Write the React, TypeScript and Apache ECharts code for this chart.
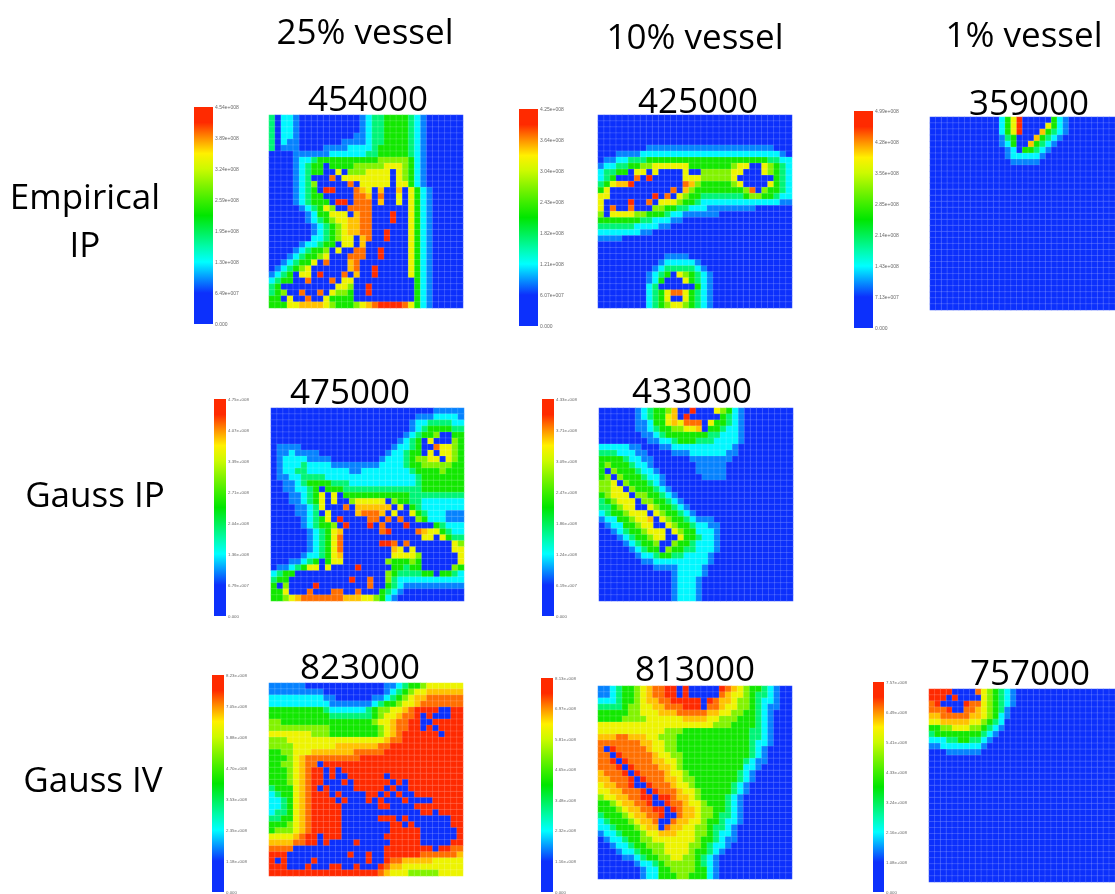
import React, { useEffect, useRef } from "react";
import * as echarts from "echarts";

const JET = ["#0c30fc","#0c30fc","#0c30fc","#0596ff","#00ffff","#00fbaa","#00f055","#00e600","#3fee00","#85f300","#ccfa00","#fff000","#ff9000","#ff2a00","#ff2a00"];
const LEVELS = [0.02,0.2,0.28,0.4,0.52,0.64,0.76,0.82,0.88,0.96];

const columnHeaders = ["25% vessel","10% vessel","1% vessel"];
const rowLabels = [["Empirical","IP"],["Gauss IP"],["Gauss IV"]];
const titles = ["454000","425000","359000","475000","433000","823000","813000","757000"];
const peaks = [4.54e8,4.25e8,4.99e8,4.75e8,4.33e8,8.23e8,8.13e8,7.57e8];

const empirical25 = ["30221000000000012334444321","30221000000000012334444321","30221000000000012334444321","30221000000000112334444321","30211000000011112334444321","30111000011112222344444321","00001111112222223344444321","00001223444444444455555421","00001234404444555556665421","00001234400605556666065421","00001230008066666666065421","00001235000008066666066421","000012340990008760700706421","000012344000008870800606421","000012344409908880700606421","000001234650088880000006421","000000124466607880009006421","000000123456677880009006421","000000012345677880000006421","000000012345677880090006421","000000022345660780090006421","000001223440660700000006421","000012344506008800900006421","000123445600088800900006421","001234460800078000000006421","012345600000078009000006421","123406609000807009000006421","234400800080660000000000421","340000000006650090000000421","345008008065540090000000421","440600800644440000000000421","444667777654445678999986421"];
const empirical10 = ["","","","","","00000000111111111111111111111","00011112222222222222222222222210","01122333444444444444444444443322","12233445566666644444445660065432","23344066060000600555556600065432","23400080900000666555556000000432","34677900000000875444445600006432","46000000000080754444444458054432","66000000090806544333333345544322","60000900806665443222222222222211","60800800055443322211111111","50666655444322111111","44444443322211","333333222211","222222211","1111","","","000000000001111","00000000001222221","000000000123333321","0000000012340654321","0000000012400064321","0000000023000000421","0000000023468864321","0000000023460064321","0000000023456654321"];
const empirical1 = ["000000000000246900000421","000000000000246900006421","000000000000246900074321","00000000000013400074321","0000000000001240074321","000000000000012044321","00000000000001222221","0000000000000011111","","","","","","","","","","","","","","","","","","","","","","","",""];
const gaussIp25 = ["00000000000000000000000000011111","00000000000000000000000011122221","00000000000000000000000122333322","00000000000000000000000123444433","00000000000000000000001234450044","00000000000000000000012340600054","01111000000000000000122340086654","01121111000000000001223440606654","01222211110000000012223455660654","01222322221111111122223445555544","01223322222221122222222344445444","01122333322222222222222234444444","00112344443332222222222234444444","00112234044433333333333334444444","00011234606044444444444333333333","00011234606005666660544332222222","00001123600080777777060432222222","00001123060000788870600643222111","00000123460900008808080054222111","00000123445090009080009000043222","00000012346700000089000087664322","00000012346800000000000006606433","00000012346800000099808000000065","00000012346800000000760600000066","00000122346700000000666650000006","00011234046600000005444540000006","01123466060000900000443440000054","23440000000000000005433334404432","34400000000009008005322222222222","40500009000000008004321111111111","4460008000880080004321","445678888888777665421"];
const gaussIp10 = ["000000123445700900065421","000000123446709000004321","000000112446768880644321","000000112344556670443221","000000011234444444332221","000000001122344433322221","22222110001122222222221","33322211000011122222211","4444322110000001111111","454443221000000011111","405444322100000011111","450544432210000001111","55605444321","556605444321","4566605544321","34566605544321","334566006544321","2344566606544321","1224456670654432111","01224456600654432211","00123445666065442221","00012344566006443221","00001234450054432221","00000123440544332221","0000001223443322221","0000000112222222221","000000000111122221","000000000000122221","00000000000012221","00000000000012221","00000000000012221","00000000000012221"];
const gaussIv25 = ["11111100000000000001123445666666","11111111100000000001234566777777","22222222211000000112345677888888","22222222221111111234456678888888","44444444432222223455667899990099","44444444443333333456678890900099","55444444444444444566788990099999","55555555554444444456788990909999","66666665554444444456789999990999","55566666666666666667889999999999","55556666666777777788999999999999","44556667777777888889999999999999","44456788888888899999999999999999","44556788099999999999999999999999","44456789909099999999999999999999","44456789909009999990999999999999","44456789900090999999090999999999","34446789090000999990900999999999","23446789990900009909090099999999","22346789999090009090009000099999","22346789999900000099000099999999","23346789999900000000000009909999","33446789999900000099909000000099","44456789999900000000990900000099","45556789999900000000999990000009","66667899099900000009999990000009","77778899090000900000999990000099","88880000000000000009999999909988","99900000000009009009999998888887","90900009000000009009887777766666","99900090009900900098776666666666","99999999999999999987666555556666"];
const gaussIv10 = ["112344567889909000009876544321","112344567889909000008766543321","222344567788999990987765543221","333345566778889990887665543211","44444556667778888877665544321","44445555666666777766555444321","66666666666666666665554444321","66666666666555444444444443321","77788777665554444444444443321","88888887766554444444444443221","8098888876655444444444444321","8809888887665544444444444321","8890988887766544444444443211","888909888877654444444444221","78889098888766544444444321","77888909888776554444444321","6778890098887665444444321","6677888909888766544444321","566778899099877654444321","445677889009887665444321","444567788990987765544321","344456778890087765543321","234445677800877665443221","22344456770877665543321","12234445667776665543221","01223445566666665443211","0012234455566665543221","000122344556666544321","00001123445566554321","00000012234555554321","00000001224455554421","00000001224445544421"];
const gaussIv1 = ["999900008654321","999090000654321","890000988654321","88890088765431","77888887765421","6677777665432","4455666554321","344444444321","22233443321","1122222221","000111111","","","","","","","","","","","","","","","","","","","","",""];
const grids = [empirical25,empirical10,empirical1,gaussIp25,gaussIp10,gaussIv25,gaussIv10,gaussIv1];

const SIZE = 32;
const panelBoxes = [[269,115,194,193],[598,115,194,193],[930,117,194,193],[271,408,193,193],[599,408,194,193],[269,683,194,193],[598,686,194,193],[929,689,194,193]];
const barBoxes = [[194,107,19,217],[519,109,19,217],[854,111,19,217],[214,399,12,217],[542,399,12,217],[212,675,12,217],[541,678,12,217],[873,682,11,217]];
const titleSpots = [[368,97],[698,99],[1029,101],[350,390],[692,389],[360,665],[695,667],[1030,671]];
const headerSpots = [[365,30],[695,35],[1024,33]];
const rowSpots = [[[85,195],[85,243]],[[95,493]],[[93,778]]];

const FONT = '"Open Sans", sans-serif';
const cats = Array.from({ length: SIZE }, (_, i) => String(i));

function cells(rows: string[], peak: number) {
  const out: number[][] = [];
  for (let y = 0; y < SIZE; y++) {
    for (let x = 0; x < SIZE; x++) {
      const ch = (rows[y] || "")[x] || "0";
      out.push([x, y, LEVELS[+ch] * peak]);
    }
  }
  return out;
}

function tickText(v: number) {
  if (v === 0) return "0.000";
  return v.toExponential(2).replace(/e\+(\d+)/, (_m, d) => "e+" + d.padStart(3, "0"));
}

function textEl(text: string, x: number, y: number) {
  return {
    type: "text", x, y, silent: true,
    style: { text, fontSize: 35, fontFamily: FONT, fill: "#000", align: "center", verticalAlign: "middle", textAlign: "center", textVerticalAlign: "middle" },
  };
}

export default function App() {
  const ref = useRef<HTMLDivElement>(null);
  useEffect(() => {
    const chart = echarts.init(ref.current!, undefined, { renderer: "svg" });
    const grid: any[] = [], xAxis: any[] = [], yAxis: any[] = [], series: any[] = [], visualMap: any[] = [];
    grids.forEach((rows, i) => {
      const [l, t, w, h] = panelBoxes[i];
      grid.push({ left: l, top: t, width: w, height: h });
      xAxis.push({ type: "category", gridIndex: grid.length - 1, data: cats, show: false });
      yAxis.push({ type: "category", gridIndex: grid.length - 1, data: cats, inverse: true, show: false });
      visualMap.push({ type: "continuous", show: false, seriesIndex: series.length, dimension: 2, min: 0, max: peaks[i], inRange: { color: JET } });
      series.push({
        type: "heatmap", xAxisIndex: grid.length - 1, yAxisIndex: grid.length - 1,
        data: cells(rows, peaks[i]), silent: true, progressive: 0,
        itemStyle: { borderColor: "rgba(255,255,255,0.25)", borderWidth: 0.6 },
      });
    });
    barBoxes.forEach((b, i) => {
      const [l, t, w, h] = b;
      grid.push({ left: l, top: t, width: w, height: h });
      xAxis.push({ type: "category", gridIndex: grid.length - 1, data: [""], show: false });
      yAxis.push({
        type: "value", gridIndex: grid.length - 1, position: "right", min: 0, max: peaks[i], interval: peaks[i] / 7,
        axisLine: { show: false }, axisTick: { show: false }, splitLine: { show: false },
        axisLabel: { show: true, fontSize: i < 3 ? 5 : 4.4, color: "#6a6a6a", margin: 2, fontFamily: "Liberation Sans", formatter: tickText },
      });
      series.push({
        type: "bar", xAxisIndex: grid.length - 1, yAxisIndex: grid.length - 1, data: [peaks[i]], barWidth: "100%", silent: true,
        itemStyle: { color: { type: "linear", x: 0, y: 1, x2: 0, y2: 0, colorStops: JET.map((c, k) => ({ offset: k / (JET.length - 1), color: c })) } },
      });
    });
    const graphic: any[] = [];
    columnHeaders.forEach((t, i) => graphic.push(textEl(t, headerSpots[i][0], headerSpots[i][1])));
    rowLabels.forEach((lines, i) => lines.forEach((t, k) => graphic.push(textEl(t, rowSpots[i][k][0], rowSpots[i][k][1]))));
    titles.forEach((t, i) => graphic.push(textEl(t, titleSpots[i][0], titleSpots[i][1])));
    chart.setOption({ animation: false, backgroundColor: "#fff", grid, xAxis, yAxis, series, visualMap, graphic });
    return () => chart.dispose();
  }, []);
  return <div ref={ref} style={{ position: "absolute", left: 0, top: 0, width: 1115, height: 894, overflow: "hidden", filter: "blur(0.65px)" }} />;
}
